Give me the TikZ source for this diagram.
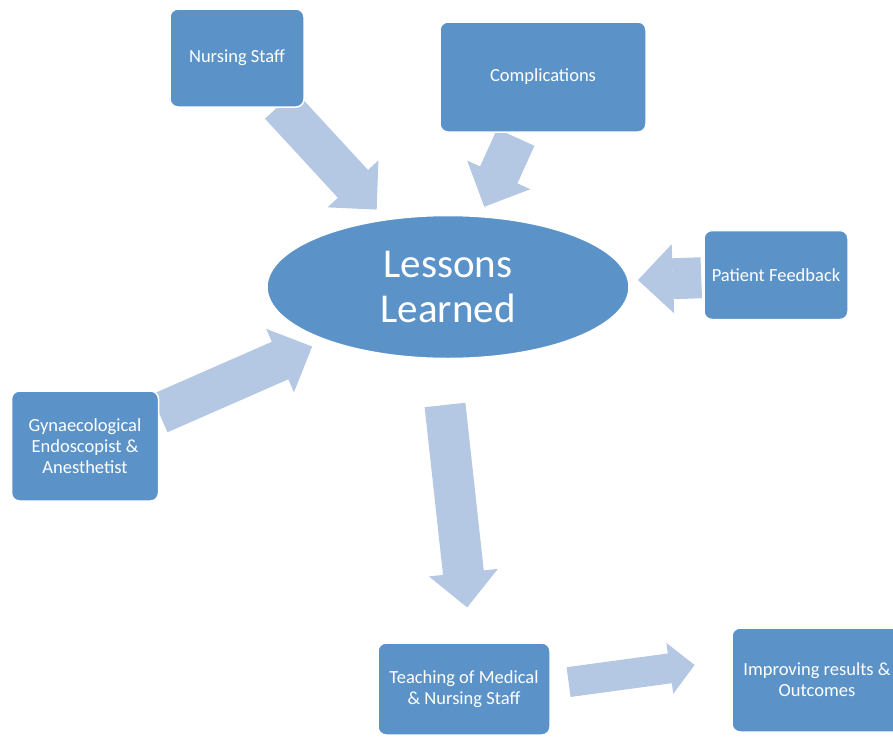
\documentclass[tikz,border=0pt]{standalone}
\usepackage{fontspec}
\setmainfont{Carlito}
\usetikzlibrary{arrows.meta,backgrounds,shapes.geometric}
\definecolor{boxblue}{RGB}{91,147,201}
\definecolor{arrowblue}{RGB}{180,200,228}

\begin{document}
\begin{tikzpicture}[x=1pt,y=-1pt,
        box/.style={draw=white, line width=1.5pt, fill=boxblue, rounded corners=8pt,
            text=white, align=center, inner sep=0pt, font=\fontsize{18.5}{21}\selectfont},
        bigarrow/.style={draw=arrowblue, line width=41pt,
            -{Triangle[length=35pt 0,width=69pt 0,line width=1.5pt 0]}},
        smallarrow/.style={draw=arrowblue, line width=30pt,
            -{Triangle[length=25pt 0,width=51pt 0,line width=1.5pt 0]}}]
        \useasboundingbox (0,0) rectangle (893,736);

        % centre
        \node[ellipse, draw=white, line width=1.5pt, fill=boxblue, text=white,
            minimum width=362pt, minimum height=143pt, inner sep=0pt,
            align=center, font=\fontsize{41}{45}\selectfont] (lessons) at (448,287) {Lessons\\Learned};

        % sources
        \node[box, minimum width=134pt, minimum height=98pt] (nurse) at (237,58) {Nursing Staff};
        \node[box, minimum width=206pt, minimum height=110pt] (compl) at (543,77) {Complications};
        \node[box, minimum width=144pt, minimum height=89pt] (patient) at (776,275) {Patient Feedback};
        \node[box, minimum width=147pt, minimum height=110pt] (gyn) at (85,446) {Gynaecological\\Endoscopist \&\\Anesthetist};

        % results
        \node[box, minimum width=172pt, minimum height=92pt] (teach) at (464,689) {Teaching of Medical\\\& Nursing Staff};
        \node[box, minimum width=170pt, minimum height=104pt] (improve) at (817,680) {Improving results \&\\Outcomes};

        \begin{scope}[on background layer]
            \draw[bigarrow, shorten <=-4pt, shorten >=13pt] (nurse) -- (lessons);
            \draw[bigarrow, shorten <=5pt, shorten >=10pt] (compl) -- (lessons);
            \draw[bigarrow, shorten <=2pt, shorten >=9pt] (patient) -- (lessons);
            \draw[bigarrow, shorten >=15pt] (gyn) -- (lessons);
            \draw[bigarrow, shorten <=46pt, shorten >=35pt] ([xshift=-8pt]lessons.south) -- ([xshift=7pt]teach.north);
            \draw[smallarrow, shorten <=18pt, shorten >=37pt] ([yshift=4.5pt]teach.east) -- ([yshift=20pt]improve.west);
        \end{scope}
    \end{tikzpicture}
\end{document}
